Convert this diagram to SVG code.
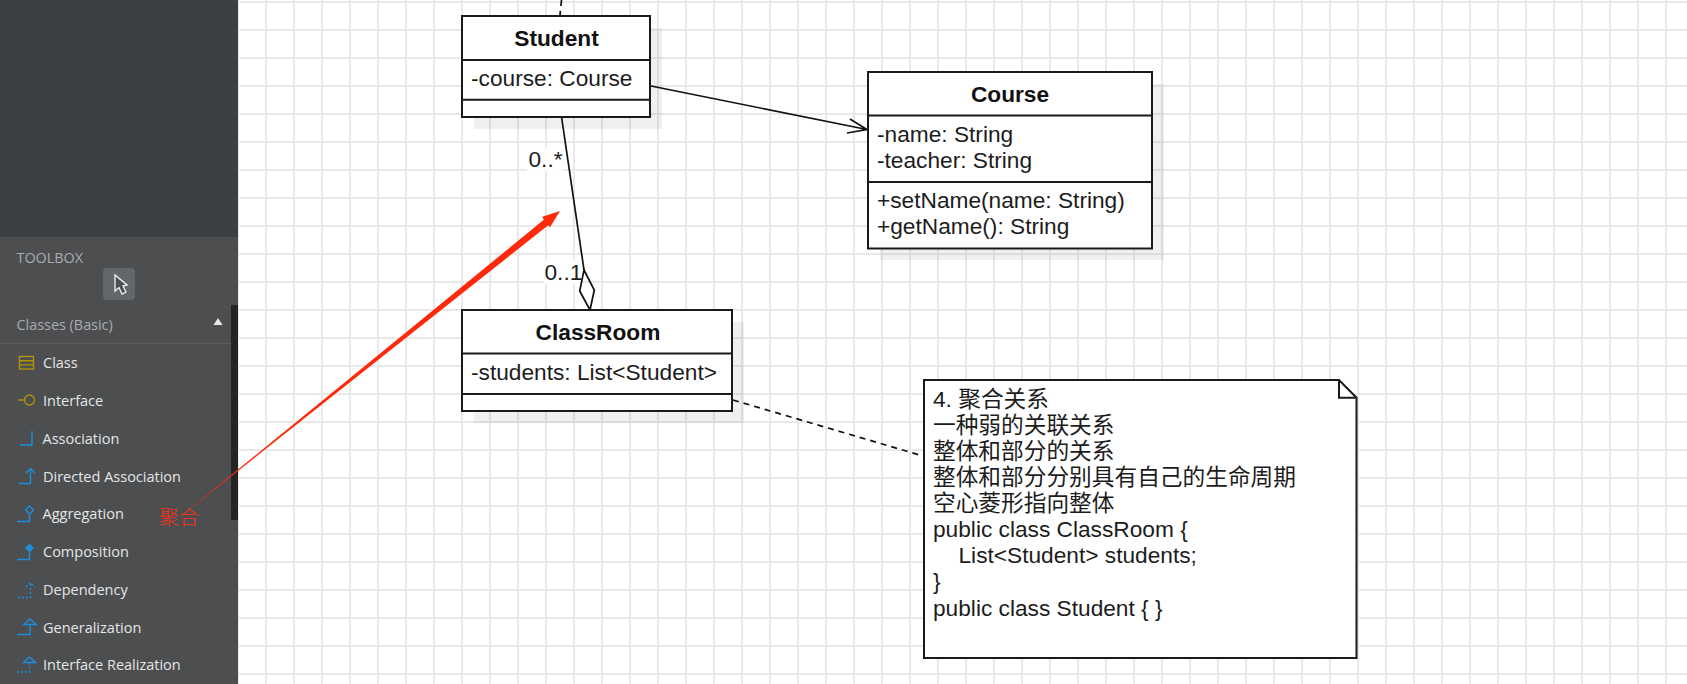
<svg xmlns="http://www.w3.org/2000/svg" width="1687" height="684" viewBox="0 0 1687 684">
<style>
.t{font-family:"Liberation Sans","Noto Sans CJK SC",sans-serif;font-size:22.7px;fill:#1c1c1c}
.b{font-weight:bold;text-anchor:middle;fill:#111}
.box{fill:#fff;stroke:#1a1a1a;stroke-width:2}
.sh{fill:#000;fill-opacity:.06}
.dv{stroke:#1a1a1a;stroke-width:2;fill:none}
.c{fill:none;stroke:#111;stroke-width:1.7}
.m{font-family:"Open Sans","Noto Sans",sans-serif;font-size:14.5px;fill:#e4e6e6}
.h{font-family:"Open Sans","Noto Sans",sans-serif;font-size:14.4px;fill:#a9acae}
.ib{fill:none;stroke:#1b8fdc;stroke-width:1.4}
.io{fill:none;stroke:#b3930a;stroke-width:1.4}
</style>
<defs>
<pattern id="grid" width="28" height="28" patternUnits="userSpaceOnUse" x="0" y="0">
<rect x="13" y="0" width="2" height="28" fill="#e9e9e9"/>
<rect x="0" y="1" width="28" height="2" fill="#e9e9e9"/>
</pattern>
</defs>
<rect width="1687" height="684" fill="#fff"/>
<rect x="238" width="1449" height="684" fill="url(#grid)"/>

<g id="sidebar">
<rect width="238" height="237" fill="#3b4043"/>
<rect y="237" width="238" height="447" fill="#4d4e50"/>
<rect x="231" y="305" width="7" height="215" fill="#242424"/>
<rect y="343" width="231" height="1" fill="#5c5d5f"/>
<text class="h" x="16.500" y="263">TOOLBOX</text>
<rect x="103" y="268" width="32" height="32" rx="4" fill="#63676a"/>
<path d="M115 275 V291 L119 287.500 L122 294 L126 292 L123 286 L127 285 Z" fill="#4d4e50" stroke="#f2f4f4" stroke-width="1.300"/>
<text class="h" x="16.500" y="330">Classes (Basic)</text>
<path d="M218 318 L222.500 325 H213.500 Z" fill="#e6e8e8"/>
<g class="io"><rect x="19.500" y="356.500" width="14" height="12.500"/><path d="M19.500 360.700H33.500M19.500 364.900H33.500"/></g>
<g class="io"><path d="M18 400H25"/><circle cx="29.500" cy="400" r="5"/></g>
<path class="ib" d="M20 445H32V431"/>
<path class="ib" d="M19 483.500H30.500V468.500M26 473L30.500 468.500L35 473"/>
<path class="ib" d="M17 521.500H29.500V514"/><path class="ib" d="M29.500 506L33.500 510L29.500 514L25.500 510Z"/>
<path class="ib" d="M17 559.500H29.500V552"/><path d="M29.500 543.500L34 548L29.500 552.500L25 548Z" fill="#1b8fdc"/>
<path class="ib" stroke-dasharray="2 2" d="M18 597.500H30.500V583M26 587L30.500 582.500L35 587"/>
<path class="ib" d="M17 634.500H30V624.500"/><path class="ib" d="M24 624.500L30 619L36 624.500Z"/>
<path class="ib" stroke-dasharray="2 2" d="M17 672H29.500V662.500"/><path class="ib" d="M23.500 662.500L29.500 657L35.500 662.500Z"/>
<text class="m" x="43" y="368">Class</text>
<text class="m" x="43" y="406">Interface</text>
<text class="m" x="42.500" y="444">Association</text>
<text class="m" x="43" y="482">Directed Association</text>
<text class="m" x="42.500" y="519">Aggregation</text>
<text class="m" x="43" y="557">Composition</text>
<text class="m" x="43" y="595">Dependency</text>
<text class="m" x="43" y="633">Generalization</text>
<text class="m" x="43" y="670">Interface Realization</text>
</g>

<g id="connectors">
<path class="c" stroke-dasharray="6 5" d="M561.500 0L560 15"/>
<path class="c" d="M651 86L867 129.500M850 119L867 129.500L847 133"/>
<path class="c" d="M561.700 118L584 270"/>
<path class="c" d="M584 270L594.300 290L590 310L579.700 291Z" fill="#fff"/>
<path class="c" stroke-dasharray="6 5" d="M733 400L923 456"/>
</g>

<g id="student">
<rect class="sh" x="474" y="28" width="188" height="101"/>
<rect class="box" x="462" y="16" width="188" height="101"/>
<path class="dv" d="M462 60H650M462 99.700H650"/>
<text class="t b" x="556.500" y="45.500">Student</text>
<text class="t" x="471" y="85.500">-course: Course</text>
</g>

<g id="course">
<rect class="sh" x="880" y="84" width="284" height="176"/>
<rect class="box" x="868" y="72" width="284" height="176.500"/>
<path class="dv" d="M868 115.500H1152M868 182H1152"/>
<text class="t b" x="1010" y="102">Course</text>
<text class="t" x="877" y="142">-name: String</text>
<text class="t" x="877" y="168">-teacher: String</text>
<text class="t" x="877" y="208">+setName(name: String)</text>
<text class="t" x="877" y="234">+getName(): String</text>
</g>

<g id="classroom">
<rect class="sh" x="474" y="322" width="270" height="101"/>
<rect class="box" x="462" y="310" width="270" height="101"/>
<path class="dv" d="M462 353.500H732M462 394H732"/>
<text class="t b" x="598" y="339.500">ClassRoom</text>
<text class="t" x="471" y="380">-students: List&lt;Student&gt;</text>
</g>

<g id="label-many">
<rect x="527" y="147" width="36" height="24" fill="#fff" fill-opacity=".85"/>
<text class="t" x="528.500" y="167">0..*</text>
</g>
<g id="label-one">
<rect x="544" y="260" width="36" height="24" fill="#fff" fill-opacity=".85"/>
<text class="t" x="544.500" y="280">0..1</text>
</g>

<g id="note">
<path class="box" d="M924 380H1339L1356.500 397.700V658H924Z"/>
<path class="dv" d="M1339 380V397.700H1356.500"/>
<text class="t" x="933" y="407">4. 聚合关系</text>
<text class="t" x="933" y="433">一种弱的关联关系</text>
<text class="t" x="933" y="459">整体和部分的关系</text>
<text class="t" x="933" y="485">整体和部分分别具有自己的生命周期</text>
<text class="t" x="933" y="511">空心菱形指向整体</text>
<text class="t" x="933" y="537">public class ClassRoom {</text>
<text class="t" x="958.500" y="563">List&lt;Student&gt; students;</text>
<text class="t" x="933" y="589">}</text>
<text class="t" x="933" y="615.500">public class Student { }</text>
</g>

<g id="annotation">
<path d="M178 518.500L543.800 219.800L542.300 216.700L560 211L550 227.300L548.200 225.200Z" fill="#ff2a0c"/>
<text x="159" y="525" font-family="'Noto Sans CJK SC',sans-serif" font-size="20" font-weight="300" fill="#f2321a">聚合</text>
</g>
</svg>
